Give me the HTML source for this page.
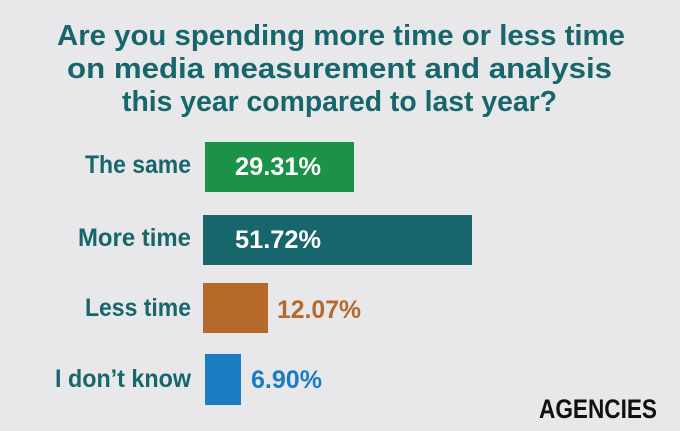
<!DOCTYPE html>
<html><head><style>
html,body{margin:0;padding:0;background:#e8e8ea;}
svg{display:block;}
text{font-family:"Liberation Sans",sans-serif;font-weight:bold;}
</style></head><body>
<svg width="680" height="431" viewBox="0 0 680 431">
<rect width="680" height="431" fill="#e8e8ea"/>
<g fill="#17666b" font-size="29">
<text x="57" y="45" textLength="568" lengthAdjust="spacingAndGlyphs">Are you spending more time or less time</text>
<text x="67" y="78" textLength="545" lengthAdjust="spacingAndGlyphs">on media measurement and analysis</text>
<text x="122" y="111" textLength="435" lengthAdjust="spacingAndGlyphs">this year compared to last year?</text>
</g>
<g fill="#17666b" font-size="25">
<text x="85" y="173" textLength="106" lengthAdjust="spacingAndGlyphs">The same</text>
<text x="78" y="246" textLength="113" lengthAdjust="spacingAndGlyphs">More time</text>
<text x="85" y="316" textLength="106" lengthAdjust="spacingAndGlyphs">Less time</text>
<text x="55" y="387" textLength="136" lengthAdjust="spacingAndGlyphs">I don’t know</text>
</g>
<rect x="205" y="142" width="149" height="50" fill="#1c9148"/>
<rect x="203" y="215" width="269" height="50" fill="#16666b"/>
<rect x="203" y="283" width="65" height="50" fill="#b5692a"/>
<rect x="205" y="354" width="36" height="51" fill="#1a7cc1"/>
<g font-size="25">
<text x="235" y="175" fill="#fff" textLength="86" lengthAdjust="spacingAndGlyphs">29.31%</text>
<text x="235" y="248" fill="#fff" textLength="86" lengthAdjust="spacingAndGlyphs">51.72%</text>
<text x="277" y="318" fill="#b5692a" textLength="84" lengthAdjust="spacingAndGlyphs">12.07%</text>
<text x="251" y="388" fill="#1a7cc1" textLength="71" lengthAdjust="spacingAndGlyphs">6.90%</text>
</g>
<text x="539" y="418" fill="#111" font-size="27" textLength="118" lengthAdjust="spacingAndGlyphs">AGENCIES</text>
</svg>
</body></html>
